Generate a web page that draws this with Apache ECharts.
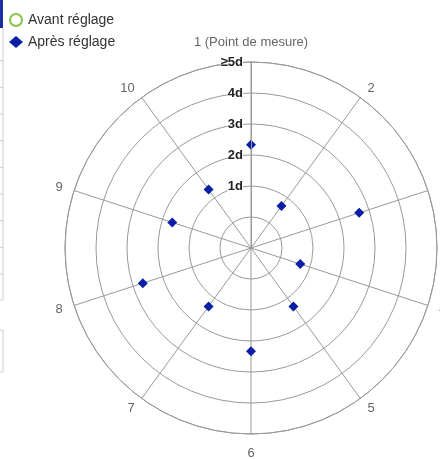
<!DOCTYPE html>
<html>
<head>
<meta charset="utf-8">
<script src="https://cdn.jsdelivr.net/npm/echarts@6/dist/echarts.min.js"></script>
<style>html,body{margin:0;padding:0;background:#fff}#c{width:440px;height:459px}</style>
</head>
<body>
<div id="c"></div>
<script>
const categories = ['1 (Point de mesure)', '2', '3', '4', '5', '6', '7', '8', '9', '10'];
const seriesNames = ['Avant réglage', 'Après réglage'];
const avantValues = [];
const apresValues = [2.33, 0.67, 2.67, 0.67, 1.33, 2.33, 1.33, 2.67, 1.67, 1.33];
const radiusTicks = { 1: '1d', 2: '2d', 3: '3d', 4: '4d', 5: '≥5d' };

const toPolar = vals => vals.map((r, i) => [r, i]);

const chart = echarts.init(document.getElementById('c'), null, { renderer: 'canvas' });
const gray = '#999';
const font = 'Liberation Sans, Arial, sans-serif';
const n = categories.length;
chart.setOption({
  animation: false,
  legend: {
    orient: 'vertical',
    left: 4, top: 8,
    itemWidth: 14, itemHeight: 12, itemGap: 8,
    textStyle: { fontSize: 14, color: '#333', fontFamily: font },
    data: [
      { name: seriesNames[0], icon: 'emptyCircle' },
      { name: seriesNames[1], icon: 'diamond' }
    ]
  },
  polar: { center: [251, 248], radius: 186 },
  angleAxis: {
    type: 'value',
    min: 0, max: n, interval: 1,
    startAngle: 90,
    clockwise: true,
    axisLine: { show: true, lineStyle: { color: gray, width: 1 } },
    axisTick: { show: false },
    axisLabel: {
      color: '#666', fontSize: 13, margin: 12, fontFamily: font,
      formatter: v => {
        if (v >= n) return '';
        let key = 'm';
        if (v === 0 || v === n / 2) key = 'n';
        else if (v < n / 4 || v > n * 3 / 4) key = 'u';
        return '{' + key + '|' + categories[v] + '}';
      },
      rich: {
        n: { color: '#666', fontSize: 13, fontFamily: font, lineHeight: 15 },
        m: { color: '#666', fontSize: 13, fontFamily: font, lineHeight: 1 },
        u: { color: '#666', fontSize: 13, fontFamily: font, lineHeight: 1, padding: [0, 0, -3, 0] }
      }
    },
    splitLine: { show: true, lineStyle: { color: gray, width: 1 } }
  },
  radiusAxis: {
    type: 'value',
    min: -1, max: 5, interval: 1,
    axisLine: { show: true, lineStyle: { color: gray } },
    axisTick: { show: false },
    axisLabel: {
      color: '#222', fontSize: 13, fontWeight: 'bold', fontFamily: font,
      backgroundColor: '#fff',
      formatter: v => radiusTicks[v] || ''
    },
    splitLine: { show: true, lineStyle: { color: gray, width: 1 } },
    z: 5
  },
  graphic: [
    { type: 'rect', shape: { x: 0, y: 0, width: 3, height: 28 }, style: { fill: '#1a2fa0' } },
    { type: 'polyline', shape: { points: [[3, 28], [3, 300], [0, 300]] }, style: { stroke: '#ccc', lineWidth: 1, fill: null } },
    { type: 'group', children: [60.7, 87.3, 114, 140.7, 167.3, 194, 220.7, 247.3, 274].map(y => ({ type: 'line', shape: { x1: 0, y1: y, x2: 3, y2: y }, style: { stroke: '#ccc' } })) },
    { type: 'polyline', shape: { points: [[0, 330], [3, 330], [3, 372], [0, 372]] }, style: { stroke: '#ccc', lineWidth: 1, fill: null } }
  ],
  series: [
    { name: seriesNames[0], type: 'scatter', coordinateSystem: 'polar', data: toPolar(avantValues),
      symbol: 'emptyCircle', symbolSize: 10, itemStyle: { color: '#8bc34a', borderWidth: 2.5, opacity: 1 } },
    { name: seriesNames[1], type: 'scatter', coordinateSystem: 'polar', data: toPolar(apresValues),
      symbol: 'diamond', symbolSize: 10, itemStyle: { color: '#0a1fa6', opacity: 1 } }
  ]
});
</script>
</body>
</html>
